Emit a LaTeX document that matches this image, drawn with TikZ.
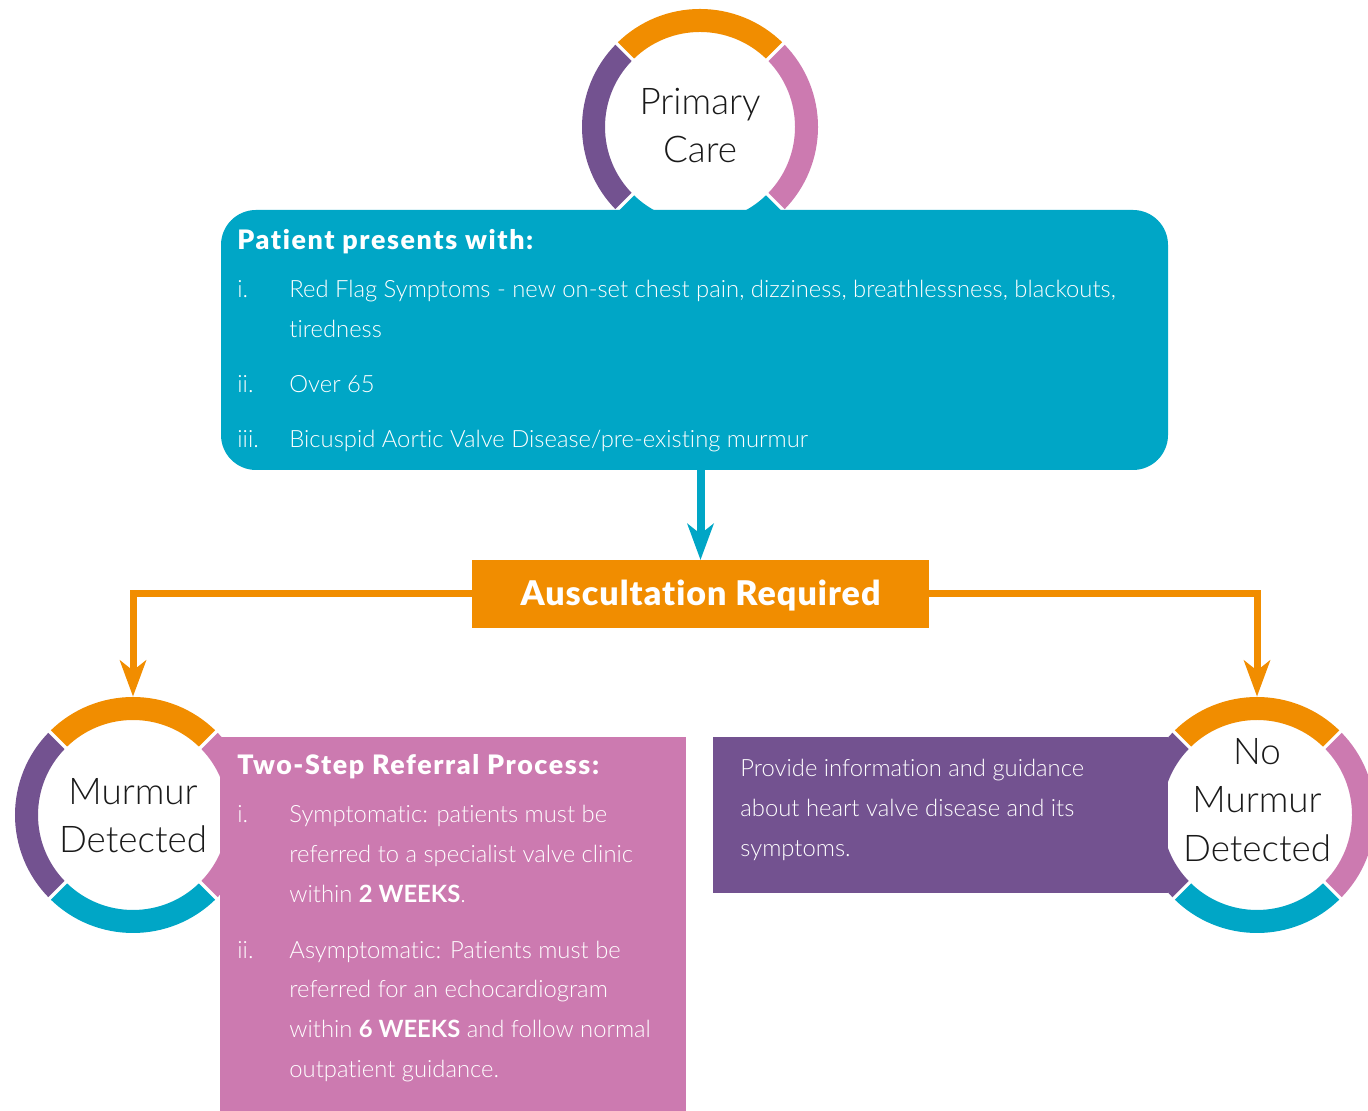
\documentclass[tikz,border=0pt]{standalone}
\usepackage{fontspec}
\setmainfont{Lato}[UprightFont=* Light, BoldFont=* Black, Ligatures=NoCommon]
\newfontfamily\boldface{Lato}[UprightFont=* Bold, Ligatures=NoCommon]
\usetikzlibrary{arrows.meta}
\definecolor{ccyan}{RGB}{0,166,198}
\definecolor{corange}{RGB}{241,141,0}
\definecolor{cpink}{RGB}{204,122,176}
\definecolor{cpurple}{RGB}{115,82,144}
\definecolor{ctext}{RGB}{26,26,26}
\newcommand\ringarcs[1]{%
  \foreach \a/\c in {45/corange,135/cpurple,225/ccyan,315/cpink}
    \draw[line width=11.5pt, \c] (#1.center) ++(\a:106.5) arc[start angle=\a, delta angle=90, radius=106.5];
  \foreach \a in {45,135,225,315}
    \draw[white, line width=1.6pt] (#1.center) ++(\a:90) -- ++(\a:32);
}
\newcommand\wk[1]{{\boldface #1}}
\begin{document}
\begin{tikzpicture}[x=0.5pt,y=0.5pt,
  ringnode/.style={circle, fill=white, minimum size=118pt, inner sep=0pt},
  boxnode/.style={inner sep=0pt, outer sep=0pt, anchor=north west},
  ctitle/.style={font=\fontsize{18.4}{22}\selectfont, text=ctext, anchor=base, inner sep=0pt},
  body/.style={font=\fontsize{11.9}{14}\selectfont, text=white, anchor=base west, inner sep=0pt},
  head/.style={font=\fontsize{13.4}{15}\selectfont\bfseries\addfontfeature{LetterSpace=6}, text=white, anchor=base west, inner sep=0pt},
  flow/.style={line width=3.5pt, -{Stealth[length=18pt,width=13pt,inset=5pt]}},
]
\clip (0,0) rectangle (1368,1111);
% circles
\node[ringnode] (pc) at (700,984) {};
\node[ringnode] (md) at (133,296) {};
\node[ringnode] (nmd) at (1257,296) {};
\ringarcs{pc}
\ringarcs{md}
\ringarcs{nmd}
% boxes
\node[boxnode, fill=ccyan, rounded corners=17.5pt, minimum width=473.5pt, minimum height=130pt] (pbox) at (221,901) {};
\node[boxnode, fill=cpink, minimum width=233pt, minimum height=190pt] (mbox) at (220,374) {};
\node[boxnode, fill=cpurple, minimum width=227.5pt, minimum height=78pt] (nbox) at (713,374) {};
\node[fill=corange, inner sep=0pt, outer sep=0pt, minimum width=228.5pt, minimum height=34pt,
  text height=12pt, text depth=0pt, text=white, font=\fontsize{17}{20}\selectfont\bfseries\addfontfeature{LetterSpace=3}] (ausc) at (700.5,517) {Auscultation Required};
% circle titles
\node[ctitle] (pc1) at (700,996) {Primary};
\node[ctitle] (pc2) at (700,948) {Care};
\node[ctitle] (md1) at (133,306) {Murmur};
\node[ctitle] (md2) at (133,258) {Detected};
\node[ctitle] (nm1) at (1257,346) {No};
\node[ctitle] (nm2) at (1257,298) {Murmur};
\node[ctitle] (nm3) at (1257,249) {Detected};
% primary box text
\node[head] (ph) at (237,861) {Patient presents with:};
\node[body] (pl1) at (237,813) {i.};
\node[body] (pt1) at (289,813) {Red Flag Symptoms - new on-set chest pain, dizziness, breathlessness, blackouts,};
\node[body] (pt1b) at (289,773) {tiredness};
\node[body] (pl2) at (237,718) {ii.};
\node[body] (pt2) at (289,718) {Over 65};
\node[body] (pl3) at (237,663) {iii.};
\node[body] (pt3) at (289,663) {Bicuspid Aortic Valve Disease/pre-existing murmur};
% pink box text
\node[head] (mh) at (237,336) {Two-Step Referral Process:};
\node[body] (ml1) at (237,288) {i.};
\node[body] (mt1a) at (289,288) {Symptomatic: patients must be};
\node[body] (mt1b) at (289,248) {referred to a specialist valve clinic};
\node[body] (mt1c) at (289,208) {within \wk{2 WEEKS}.};
\node[body] (ml2) at (237,152) {ii.};
\node[body] (mt2a) at (289,152) {Asymptomatic: Patients must be};
\node[body] (mt2b) at (289,113) {referred for an echocardiogram};
\node[body] (mt2c) at (289,73) {within \wk{6 WEEKS} and follow normal};
\node[body] (mt2d) at (289,33) {outpatient guidance.};
% purple box text
\node[body] (nt1) at (740,334) {Provide information and guidance};
\node[body] (nt2) at (740,294) {about heart valve disease and its};
\node[body] (nt3) at (740,254) {symptoms.};
% connectors
\draw[flow, ccyan, line width=4pt] (pbox.south -| ausc.north) -- (ausc.north);
\draw[flow, corange] (ausc.west) -| (md.north);
\draw[flow, corange] (ausc.east) -| (nmd.north);
\end{tikzpicture}
\end{document}
